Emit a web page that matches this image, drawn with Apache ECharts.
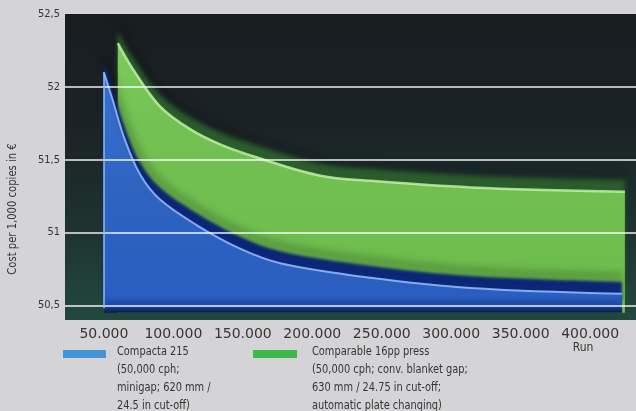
<!DOCTYPE html>
<html>
<head>
<meta charset="utf-8">
<script src="https://cdn.jsdelivr.net/npm/echarts@6/dist/echarts.min.js"></script>
<style>
  html, body { margin: 0; padding: 0; background: #d4d4d6; }
  #chart { width: 636px; height: 411px; }
</style>
</head>
<body>
<div id="chart"></div>
<script>
// Production cost per 1,000 copies against run length
const compactaName = 'Compacta 215';
const compactaNotes = ['(50,000 cph;', 'minigap; 620 mm /', '24.5 in cut-off)'];
const compactaRun  = [50000, 56000, 65000, 76000, 90000, 117000, 148000, 177000, 242000, 314000, 423000];
const compactaCost = [52.10, 51.92, 51.64, 51.40, 51.23, 51.05, 50.89, 50.79, 50.69, 50.62, 50.58];

const pressName = 'Comparable 16pp press';
const pressNotes = ['(50,000 cph; conv. blanket gap;', '630 mm / 24.75 in cut-off;', 'automatic plate changing)'];
const pressRun  = [60000, 71000, 90000, 112000, 135000, 162000, 206000, 242000, 314000, 425000];
const pressCost = [52.30, 52.12, 51.87, 51.71, 51.60, 51.51, 51.39, 51.355, 51.31, 51.28];

const runTicks  = [50000, 100000, 150000, 200000, 250000, 300000, 350000, 400000];
const costTicks = [50.5, 51, 51.5, 52, 52.5];
const costLines = [50.5, 51, 51.5, 52];
const areaBase = 50.45;

const yTitle = 'Cost per 1,000 copies in €';
const xTitle = 'Run';

const FONT = '"Liberation Sans Narrow", "DejaVu Sans Condensed", "Noto Sans", sans-serif';
const TEXT = '#353535';

const pairs = (xs, ys) => xs.map((x, i) => [x, ys[i]]);
const grad = (stops) => new echarts.graphic.LinearGradient(0, 0, 0, 1,
  stops.map(([offset, color]) => ({ offset, color })));

// vertical light edge at the start of a band
const edgeLine = (xs, ys, color) => ({
  silent: true, symbol: 'none', label: { show: false },
  lineStyle: { color: color, width: 2, type: 'solid' },
  data: [[{ coord: [xs[0], ys[0]] }, { coord: [xs[0], areaBase + 0.03] }]]
});

const chart = echarts.init(document.getElementById('chart'), null, { renderer: 'canvas' });

const legendText = (x, lines) => ({
  type: 'text', x: x, y: 343, scaleX: 0.91,
  style: { text: lines.join('\n'), font: '12px ' + FONT, fill: TEXT, lineHeight: 18, verticalAlign: 'top' }
});

chart.setOption({
  backgroundColor: '#d4d4d6',
  animation: false,
  grid: {
    left: 65, right: 0, top: 14, bottom: 91,
    show: true, borderWidth: 0,
    backgroundColor: grad([[0, '#181d20'], [0.35, '#1b2225'], [0.7, '#1e332f'], [1, '#22483e']])
  },
  xAxis: {
    type: 'value', min: 22000, max: 433000,
    axisLine: { show: false }, axisTick: { show: false }, splitLine: { show: false },
    axisLabel: {
      customValues: runTicks, margin: 7,
      color: TEXT, fontSize: 14, fontFamily: '"DejaVu Sans", Verdana, sans-serif',
      formatter: v => String(v).replace(/\B(?=(\d{3})+(?!\d))/g, '.')
    }
  },
  yAxis: {
    type: 'value', min: 50.4, max: 52.5, z: 5,
    axisLine: { show: false },
    axisTick: { show: false, customValues: costLines },
    axisLabel: {
      customValues: costTicks, margin: 5,
      color: TEXT, fontSize: 11, fontFamily: FONT,
      formatter: v => String(v).replace('.', ',')
    },
    splitLine: { show: true, lineStyle: { color: 'rgba(255,255,255,0.92)', width: 1.6 } }
  },
  series: [
    {
      name: pressName, type: 'line', smooth: 0.35, symbol: 'none', z: 2,
      data: pairs(pressRun, pressCost),
      lineStyle: { color: 'rgba(200,245,170,0.8)', width: 2.5,
        shadowColor: 'rgba(0,0,0,0.55)', shadowBlur: 8, shadowOffsetY: -18 },
      areaStyle: {
        origin: areaBase, opacity: 1,
        color: grad([[0, '#7ccc5a'], [0.3, '#72c152'], [1, '#6cbb4b']]),
        shadowColor: '#2a5c2c', shadowBlur: 4, shadowOffsetY: -12
      }
    },
    {
      name: compactaName, type: 'line', smooth: 0.35, symbol: 'none', z: 3,
      data: pairs(compactaRun, compactaCost),
      lineStyle: { color: 'rgba(150,190,255,0.85)', width: 2,
        shadowColor: 'rgba(0,0,0,0.95)', shadowBlur: 8, shadowOffsetY: -17 },
      areaStyle: {
        origin: areaBase, opacity: 1,
        color: grad([[0, '#3a72d2'], [0.5, '#2e63c0'], [0.93, '#2a5ec0'], [0.97, '#1d46a0'], [1, '#0b1a48']]),
        shadowColor: '#0c2778', shadowBlur: 3, shadowOffsetY: -12
      },
      markLine: edgeLine(compactaRun, compactaCost, 'rgba(140,185,255,0.75)')
    }
  ],
  graphic: [
    { type: 'text', x: 13, y: 209, rotation: Math.PI / 2, scaleX: 0.93,
      style: { text: yTitle, font: '12px ' + FONT, fill: TEXT, align: 'center', verticalAlign: 'middle' } },
    { type: 'text', x: 583, y: 348,
      style: { text: xTitle, font: '12px ' + FONT, fill: TEXT, align: 'center', verticalAlign: 'middle' } },
    { type: 'rect', shape: { x: 63, y: 350, width: 43, height: 8 }, style: { fill: '#4494d8' } },
    legendText(117, [compactaName].concat(compactaNotes)),
    { type: 'rect', shape: { x: 253, y: 350, width: 44, height: 8 }, style: { fill: '#3db84a' } },
    legendText(312, [pressName].concat(pressNotes))
  ]
});
</script>
</body>
</html>
